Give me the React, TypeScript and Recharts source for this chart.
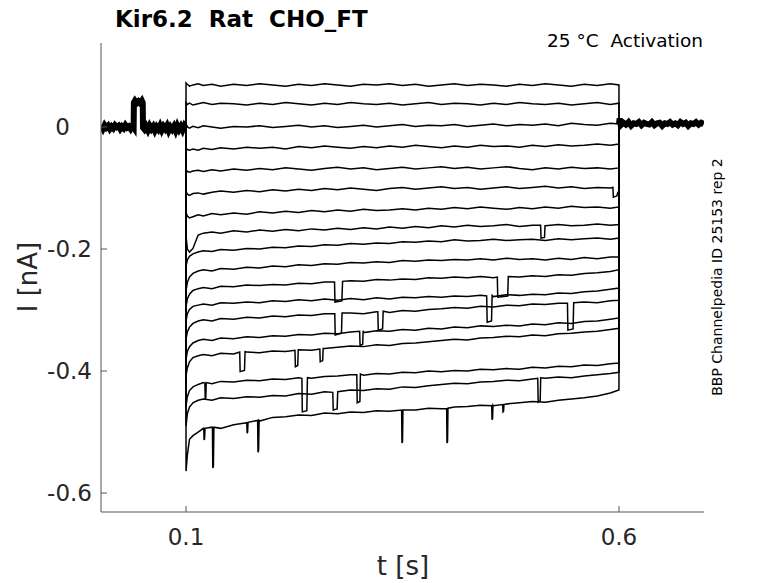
import { Line, LineChart, XAxis, YAxis } from 'recharts';

// Kir6.2 activation protocol, 18 sweeps. Currents in pA, time in s.
const xTicks = [0.1, 0.6];
const yTicks = [-0.6, -0.4, -0.2, 0];

// holding period before the step (all sweeps overlap)
const preT = [0.002, 0.004, 0.006, 0.008, 0.01, 0.012, 0.014, 0.016, 0.018, 0.02, 0.022, 0.024, 0.026, 0.028, 0.03, 0.032, 0.034, 0.036, 0.038, 0.0395, 0.0398, 0.041, 0.043, 0.045, 0.047, 0.049, 0.05, 0.0503, 0.052, 0.054, 0.056, 0.058, 0.06, 0.062, 0.064, 0.066, 0.068, 0.07, 0.072, 0.074, 0.076, 0.078, 0.08, 0.082, 0.084, 0.086, 0.088, 0.09, 0.092, 0.094, 0.096, 0.098, 0.0999];
const preV = [2, -3, 3, -1, 2, -3, 1, -2, 3, 0, 2, -3, 1, -2, 3, -1, 1, -3, 2, -1, 40, 43, 39, 42, 39, 43, 40, -1, -4, 1, -5, 2, -3, 1, -6, 0, -4, 2, -5, 1, -3, 2, -6, 0, -4, 1, -6, 2, -4, 1, -5, 2, -2];

// after the step
const postT = [0.6, 0.6008, 0.602, 0.605, 0.608, 0.611, 0.614, 0.617, 0.62, 0.623, 0.626, 0.629, 0.632, 0.635, 0.638, 0.641, 0.644, 0.647, 0.65, 0.653, 0.656, 0.659, 0.662, 0.665, 0.668, 0.671, 0.674, 0.677, 0.68, 0.683, 0.686, 0.689, 0.692, 0.695, 0.698];
const postV = [5, 14, 3, 7, 4, 8, 2, 6, 5, 8, 3, 7, 5, 4, 8, 3, 6, 7, 2, 6, 5, 8, 4, 6, 3, 8, 5, 7, 2, 6, 5, 8, 4, 7, 5];

// sampling times during the step
const stepT = [0.1, 0.1015, 0.104, 0.108, 0.114, 0.12, 0.13, 0.14, 0.155, 0.17, 0.185, 0.2, 0.215, 0.23, 0.245, 0.26, 0.275, 0.29, 0.305, 0.32, 0.335, 0.35, 0.365, 0.38, 0.395, 0.41, 0.425, 0.44, 0.455, 0.47, 0.485, 0.5, 0.515, 0.53, 0.545, 0.56, 0.575, 0.59, 0.6];

const tr1 = [72, 70, 67, 69, 71, 68, 70, 67, 70, 68, 71, 69, 67, 70, 68, 71, 69, 67, 70, 69, 71, 68, 70, 67, 69, 71, 68, 70, 69, 67, 70, 68, 71, 69, 67, 70, 68, 71, 69];
const tr2 = [40, 37, 39, 36, 38, 40, 37, 39, 38, 36, 39, 37, 40, 38, 36, 39, 37, 40, 38, 37, 39, 36, 38, 40, 37, 39, 38, 36, 39, 37, 40, 38, 37, 39, 36, 38, 40, 37, 39];
const tr3 = [2, 0, -2, 1, -1, 2, 0, -2, 1, 0, 2, -1, 1, 3, 0, 2, -1, 1, 3, 0, 2, 4, 1, 3, 2, 4, 1, 3, 5, 2, 4, 3, 5, 2, 6, 4, 3, 6, 5];
const tr4 = [-34, -37, -38, -36, -38, -35, -37, -34, -36, -33, -35, -33, -36, -32, -34, -31, -33, -35, -32, -34, -31, -33, -30, -32, -34, -31, -33, -30, -32, -31, -33, -30, -32, -29, -31, -30, -28, -30, -28];
const tr5 = [-70, -73, -74, -72, -71, -73, -70, -72, -69, -71, -68, -70, -67, -69, -71, -68, -66, -69, -67, -70, -68, -66, -69, -67, -65, -68, -66, -69, -67, -65, -68, -70, -67, -69, -66, -68, -67, -69, -67];
const tr6 = [-106, -110, -112, -109, -108, -110, -107, -105, -107, -104, -106, -103, -105, -102, -104, -101, -103, -100, -102, -104, -101, -99, -102, -100, -98, -101, -99, -102, -100, -98, -101, -99, -97, -100, -98, -101, -99, -100, -103];
const tr7 = [-140, -146, -149, -147, -144, -146, -142, -144, -141, -143, -139, -141, -138, -140, -137, -139, -136, -138, -135, -137, -136, -134, -136, -133, -135, -132, -134, -131, -133, -135, -132, -134, -131, -133, -130, -132, -131, -133, -131];
const tr8 = [-178, -200, -205, -199, -177, -174, -172, -174, -170, -172, -169, -171, -168, -170, -167, -169, -166, -168, -165, -167, -164, -166, -163, -165, -162, -164, -161, -163, -162, -160, -163, -161, -162, -160, -162, -161, -159, -161, -160];
const tr9 = [-228, -218, -212, -208, -205, -203, -204, -201, -202, -199, -200, -197, -198, -195, -196, -193, -194, -191, -192, -190, -191, -188, -189, -187, -188, -185, -187, -186, -184, -186, -185, -184, -186, -183, -185, -183, -182, -184, -182];
const tr10 = [-268, -255, -246, -240, -236, -234, -236, -232, -233, -230, -231, -228, -229, -226, -227, -224, -225, -222, -223, -221, -222, -219, -220, -218, -219, -217, -218, -216, -218, -215, -217, -216, -218, -215, -217, -214, -216, -213, -213];
const tr11 = [-294, -282, -274, -268, -265, -263, -265, -261, -262, -259, -260, -258, -259, -256, -257, -254, -253, -252, -253, -250, -251, -249, -250, -247, -248, -246, -247, -245, -247, -245, -246, -244, -245, -242, -243, -240, -239, -237, -234];
const tr12 = [-318, -306, -299, -294, -292, -290, -292, -288, -289, -287, -288, -285, -286, -283, -285, -282, -284, -281, -283, -280, -282, -279, -280, -278, -279, -277, -278, -276, -278, -275, -276, -274, -275, -272, -273, -270, -269, -266, -264];
const tr13 = [-348, -336, -328, -322, -318, -316, -318, -314, -315, -312, -313, -310, -311, -308, -309, -306, -307, -305, -306, -303, -304, -301, -302, -299, -298, -296, -297, -294, -295, -292, -293, -290, -291, -289, -290, -287, -288, -285, -284];
const tr14 = [-381, -368, -360, -354, -350, -348, -350, -346, -347, -344, -345, -342, -343, -340, -341, -338, -339, -336, -337, -334, -335, -332, -333, -330, -331, -328, -329, -326, -327, -325, -326, -323, -324, -321, -322, -319, -318, -315, -313];
const tr15 = [-408, -395, -385, -378, -375, -373, -375, -371, -372, -369, -370, -367, -368, -365, -366, -363, -361, -359, -360, -357, -358, -355, -354, -352, -350, -348, -349, -346, -345, -343, -344, -341, -342, -339, -338, -336, -335, -332, -330];
const tr16 = [-458, -442, -432, -426, -422, -419, -421, -417, -418, -415, -416, -413, -414, -411, -412, -409, -408, -406, -407, -404, -405, -402, -403, -400, -401, -399, -400, -397, -398, -396, -397, -394, -395, -392, -393, -390, -391, -388, -387];
const tr17 = [-490, -470, -459, -452, -448, -446, -448, -444, -445, -442, -443, -440, -441, -437, -438, -434, -435, -431, -432, -429, -430, -426, -427, -424, -422, -420, -421, -418, -417, -415, -416, -413, -412, -410, -411, -408, -406, -404, -402];
const tr18 = [-564, -538, -512, -506, -500, -494, -492, -494, -488, -485, -482, -476, -475, -472, -473, -469, -470, -467, -468, -465, -466, -463, -464, -461, -462, -459, -458, -456, -457, -454, -452, -450, -451, -448, -446, -444, -441, -436, -431];

// short closures / dips: [t, pA] points
const ev6 = [[[0.593, -99], [0.5935, -115], [0.5975, -113], [0.5985, -108], [0.5995, -106]]];
const ev8 = [[[0.5095, -161], [0.51, -182], [0.514, -181], [0.5146, -162]]];
const ev11 = [
  [[0.2715, -254], [0.272, -287], [0.28, -285], [0.2808, -253]],
  [[0.4595, -246], [0.46, -279], [0.4715, -277], [0.4722, -245]],
];
const ev12 = [[[0.4472, -277], [0.4478, -320], [0.4528, -318], [0.4535, -276]]];
const ev13 = [
  [[0.2718, -306], [0.2723, -341], [0.2795, -338], [0.2802, -305]],
  [[0.3215, -303], [0.322, -333], [0.327, -331], [0.3277, -302]],
  [[0.5405, -289], [0.541, -333], [0.547, -331], [0.5477, -288]],
];
const ev14 = [[[0.3005, -335], [0.301, -358], [0.304, -356], [0.3046, -334]]];
const ev15 = [
  [[0.162, -369], [0.1625, -401], [0.1675, -399], [0.1682, -368]],
  [[0.2258, -366], [0.2263, -393], [0.229, -391], [0.2296, -365]],
  [[0.2545, -364], [0.255, -385], [0.2578, -383], [0.2584, -363]],
];
const ev16 = [
  [[0.1218, -420], [0.1222, -446], [0.1228, -444], [0.1233, -419]],
  [[0.2338, -412], [0.2343, -467], [0.2395, -465], [0.2402, -411]],
  [[0.2972, -406], [0.2977, -452], [0.3008, -450], [0.3014, -405]],
];
const ev17 = [
  [[0.2695, -435], [0.27, -464], [0.2745, -462], [0.2752, -434]],
  [[0.5062, -412], [0.5067, -451], [0.509, -449], [0.5096, -411]],
];
const ev18 = [
  [[0.1205, -494], [0.1209, -513], [0.1214, -511], [0.1219, -494]],
  [[0.1305, -493], [0.1309, -559], [0.1316, -556], [0.1322, -492]],
  [[0.1702, -485], [0.1706, -502], [0.1711, -500], [0.1716, -484]],
  [[0.1827, -481], [0.1831, -533], [0.1838, -530], [0.1844, -481]],
  [[0.349, -464], [0.3494, -518], [0.35, -516], [0.3505, -464]],
  [[0.401, -462], [0.4014, -518], [0.402, -516], [0.4025, -461]],
  [[0.453, -457], [0.4534, -480], [0.454, -478], [0.4545, -456]],
  [[0.4657, -455], [0.4661, -467], [0.4667, -466], [0.4672, -455]],
];

const traceValues = [tr1, tr2, tr3, tr4, tr5, tr6, tr7, tr8, tr9, tr10, tr11, tr12, tr13, tr14, tr15, tr16, tr17, tr18];
const traceEvents = [[], [], [], [], [], ev6, [], ev8, [], [], ev11, ev12, ev13, ev14, ev15, ev16, ev17, ev18];

type Pt = { t: number; v: number };

function buildTrace(values: number[], events: number[][][]): Pt[] {
  const spans = events.map((e) => [e[0][0], e[e.length - 1][0]]);
  const pts: Pt[] = stepT
    .map((t, i) => ({ t, v: values[i] }))
    .filter((p) => !spans.some(([a, b]) => p.t >= a && p.t <= b));
  events.forEach((e) => e.forEach(([t, v]) => pts.push({ t, v })));
  pts.sort((a, b) => a.t - b.t);
  const all = [{ t: 0.1, v: 0 }, ...pts, { t: 0.6, v: postV[0] }];
  return all.map((p) => ({ t: p.t, v: p.v / 1000 }));
}

const preData = preT.map((t, i) => ({ t, v: preV[i] / 1000 }));
const postData = postT.map((t, i) => ({ t, v: postV[i] / 1000 }));
const traces = traceValues.map((vals, i) => buildTrace(vals, traceEvents[i]));

const font = '"DejaVu Sans", sans-serif';
const ink = '#262626';

function YTick(props: any) {
  const { x, y, payload } = props;
  const v = payload.value as number;
  return (
    <g>
      <line x1={x} x2={x + 6} y1={y} y2={y} stroke="#555" />
      <text x={v === 0 ? 70 : x - 9} y={y} dy="0.36em" textAnchor="end" fontSize={23} fontFamily={font} fill={ink}>
        {String(v)}
      </text>
    </g>
  );
}

function XTick(props: any) {
  const { x, y, payload } = props;
  return (
    <g>
      <line x1={x} x2={x} y1={y} y2={y - 6} stroke="#555" />
      <text x={x} y={y + 33} textAnchor="middle" fontSize={23} fontFamily={font} fill={ink}>
        {String(payload.value)}
      </text>
    </g>
  );
}

export default function App() {
  return (
    <div style={{ position: 'absolute', left: 0, top: 0, width: 778, height: 583, background: '#fff' }}>
      <LineChart width={778} height={583} margin={{ top: 43, right: 74, bottom: 0, left: 0 }}>
        <XAxis
          type="number"
          dataKey="t"
          domain={[0.0018, 0.6982]}
          allowDataOverflow
          ticks={xTicks}
          height={71}
          tickSize={0}
          tickMargin={0}
          tickLine={false}
          axisLine={{ stroke: '#555' }}
          tick={<XTick />}
        />
        <YAxis
          type="number"
          domain={[-0.6311, 0.1377]}
          allowDataOverflow
          ticks={yTicks}
          width={101}
          tickSize={0}
          tickMargin={0}
          tickLine={false}
          axisLine={{ stroke: '#555' }}
          tick={<YTick />}
        />
        <Line data={preData} dataKey="v" stroke="#000" strokeWidth={6} dot={false} isAnimationActive={false} />
        <Line data={postData} dataKey="v" stroke="#000" strokeWidth={6} dot={false} isAnimationActive={false} />
        {traces.map((d, i) => (
          <Line
            key={i}
            data={d}
            dataKey="v"
            stroke="#000"
            strokeWidth={1.5}
            dot={false}
            isAnimationActive={false}
          />
        ))}
      </LineChart>
      <svg width={778} height={583} style={{ position: 'absolute', left: 0, top: 0, pointerEvents: 'none' }}>
        <text x={115} y={27} fontSize={23} fontWeight="bold" fontFamily={font} fill="#000" style={{ whiteSpace: 'pre' }}>
          {'Kir6.2  Rat  CHO_FT'}
        </text>
        <text x={703} y={47} textAnchor="end" fontSize={18.5} fontFamily={font} fill="#000" style={{ whiteSpace: 'pre' }}>
          {'25 °C  Activation'}
        </text>
        <text x={403} y={575} textAnchor="middle" fontSize={26} fontFamily={font} fill={ink}>
          t [s]
        </text>
        <text transform="translate(37,277) rotate(-90)" textAnchor="middle" fontSize={26} fontFamily={font} fill={ink}>
          I [nA]
        </text>
        <text transform="translate(722,277) rotate(-90)" textAnchor="middle" fontSize={14} fontFamily={font} fill="#000">
          BBP Channelpedia ID 25153 rep 2
        </text>
      </svg>
    </div>
  );
}
